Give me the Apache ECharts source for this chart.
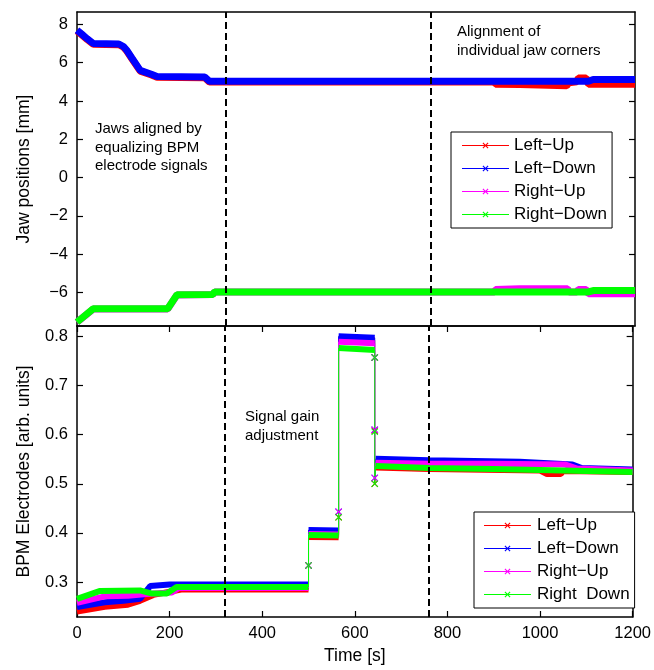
<!DOCTYPE html>
<html><head><meta charset="utf-8">
<script src="https://cdn.jsdelivr.net/npm/echarts@6/dist/echarts.min.js"></script>
<style>html,body{margin:0;padding:0;background:#fff}#c{width:654px;height:670px}</style>
</head><body><div id="c"></div>
<script>
// ---------- data ----------
const timeTicks = [0, 200, 400, 600, 800, 1000, 1200];
const jawTicks = [-6, -4, -2, 0, 2, 4, 6, 8];
const bpmTicks = [0.3, 0.4, 0.5, 0.6, 0.7, 0.8];
const markerTimes = [320, 760];
const jawNames = ['Left−Up', 'Left−Down', 'Right−Up', 'Right−Down'];
const bpmNames = ['Left−Up', 'Left−Down', 'Right−Up', 'Right  Down'];
const seriesColors = ['#ff0000', '#0000ff', '#ff00ff', '#00ff00'];

// Jaw positions [time s, mm]
const jawLeftUp = [[0,7.66],[10,7.46],[22,7.21],[35,6.96],[90,6.94],[100,6.81],[107,6.61],[118,6.21],[136,5.56],[160,5.36],[172,5.24],[275,5.21],[285,4.99],[898,5.0],[900,4.88],[952,4.86],[955,4.8],[1053,4.8],[1058,4.95],[1075,5.0],[1078,5.2],[1095,5.2],[1100,4.87],[1200,4.87]];
const jawLeftDown = [[0,7.7],[10,7.5],[22,7.25],[35,7.0],[90,6.98],[100,6.85],[107,6.65],[118,6.25],[136,5.6],[160,5.4],[172,5.28],[275,5.25],[285,5.03],[1100,5.03],[1110,5.12],[1200,5.12]];
const jawRightUp = [[0,-7.55],[35,-6.86],[195,-6.86],[215,-6.13],[292,-6.11],[296,-5.97],[898,-5.97],[900,-5.85],[952,-5.8],[1055,-5.8],[1058,-5.97],[1075,-5.97],[1078,-5.85],[1095,-5.85],[1100,-6.06],[1200,-6.06]];
const jawRightDown = [[0,-7.55],[35,-6.85],[195,-6.85],[215,-6.12],[292,-6.1],[296,-5.97],[1100,-5.97],[1110,-5.9],[1200,-5.9]];

// BPM electrode signals: plateau segments [time s, arb. units]
const bpmLeftUp = [
  [[0,0.240],[60,0.250],[110,0.254],[136,0.262],[165,0.274],[225,0.285],[500,0.285]],
  [[500,0.392],[565,0.391]],
  [[565,0.795],[643,0.792]],
  [[645,0.533],[760,0.530],[1000,0.527],[1015,0.520],[1045,0.520],[1050,0.526],[1200,0.524]]
];
const bpmLeftDown = [
  [[0,0.249],[60,0.259],[100,0.262],[136,0.266],[158,0.292],[200,0.295],[500,0.295]],
  [[500,0.406],[565,0.405]],
  [[565,0.800],[643,0.797]],
  [[645,0.551],[760,0.548],[956,0.545],[1070,0.539],[1090,0.532],[1200,0.529]]
];
const bpmRightUp = [
  [[0,0.258],[60,0.271],[110,0.272],[150,0.276],[205,0.279],[220,0.288],[500,0.288]],
  [[500,0.398],[565,0.397]],
  [[565,0.789],[643,0.786]],
  [[645,0.543],[760,0.541],[900,0.541],[1055,0.539],[1080,0.531],[1200,0.527]]
];
const bpmRightDown = [
  [[0,0.266],[50,0.282],[136,0.283],[160,0.277],[194,0.277],[215,0.290],[500,0.290]],
  [[500,0.396],[565,0.395]],
  [[565,0.776],[643,0.772]],
  [[645,0.536],[760,0.532],[900,0.530],[1050,0.527],[1200,0.524]]
];
// transient samples during the gain steps
const jumpTimes = [500, 565, 643];
const bpmLeftUpJumps = [[0.334], [0.432], [0.757, 0.608, 0.500]];
const bpmLeftDownJumps = [[0.334], [0.443], [0.757, 0.610, 0.512]];
const bpmRightUpJumps = [[0.334], [0.443], [0.757, 0.610, 0.512]];
const bpmRightDownJumps = [[0.334], [0.432], [0.757, 0.606, 0.500]];

// ---------- chart ----------
const FONT = '"Liberation Sans", Arial, sans-serif';
const xMark = 'path://M0,1 L1,0 L5,4 L9,0 L10,1 L6,5 L10,9 L9,10 L5,6 L1,10 L0,9 L4,5 Z';
const legendIcon = 'path://M0,3 H47 V4 H0 Z M21.3,0.5 L23.5,2.7 L25.7,0.5 L26.5,1.3 L24.3,3.5 L26.5,5.7 L25.7,6.5 L23.5,4.3 L21.3,6.5 L20.5,5.7 L22.7,3.5 L20.5,1.3 Z';

const jawData = [jawLeftUp, jawLeftDown, jawRightUp, jawRightDown];
const bpmData = [bpmLeftUp, bpmLeftDown, bpmRightUp, bpmRightDown];
const bpmJumps = [bpmLeftUpJumps, bpmLeftDownJumps, bpmRightUpJumps, bpmRightDownJumps];

const series = [];
jawData.forEach((d, i) => {
  series.push({
    type: 'line', name: jawNames[i], xAxisIndex: 0, yAxisIndex: 0,
    data: d, symbol: 'none', color: seriesColors[i],
    lineStyle: { width: 7, color: seriesColors[i] }, silent: true
  });
});
bpmData.forEach((segs, i) => {
  segs.forEach(seg => {
    series.push({
      type: 'line', name: bpmNames[i], xAxisIndex: 1, yAxisIndex: 2,
      data: seg, symbol: 'none', color: seriesColors[i],
      lineStyle: { width: 6, color: seriesColors[i] }, silent: true
    });
  });
  jumpTimes.forEach((t, k) => {
    const a = segs[k][segs[k].length - 1];
    const b = segs[k + 1][0];
    const pts = [a].concat(bpmJumps[i][k].map(v => ({ value: [t, v], symbol: xMark, symbolSize: 7 }))).concat([b]);
    series.push({
      type: 'line', name: bpmNames[i], xAxisIndex: 1, yAxisIndex: 2,
      data: pts, symbol: 'none', showSymbol: true, showAllSymbol: true,
      color: seriesColors[i],
      itemStyle: { color: seriesColors[i], borderWidth: 0 },
      lineStyle: { width: 1, color: seriesColors[i] }, silent: true
    });
  });
});
[[0, 0], [1, 2]].forEach(([xi, yi]) => {
  series.push({
    type: 'line', xAxisIndex: xi, yAxisIndex: yi, data: [], z: 10,
    markLine: {
      silent: true, symbol: 'none', label: { show: false }, animation: false,
      lineStyle: { color: '#000', type: [7, 4], width: 2 },
      data: markerTimes.map(t => ({ xAxis: t }))
    }
  });
});

const lineStyleAx = { show: true, onZero: false, lineStyle: { color: '#000', width: 1.5 } };
function ticks(vals) {
  const o = { show: true, inside: true, length: 6, lineStyle: { color: '#000', width: 1.2 } };
  if (vals) o.customValues = vals;
  return o;
}
const labelBase = { color: '#000', fontFamily: FONT, fontSize: 16.5 };
const nameStyle = { color: '#000', fontFamily: FONT, fontSize: 17.5 };

const option = {
  animation: false,
  backgroundColor: '#fff',
  grid: [
    { left: 77, top: 12, width: 558, height: 314, show: false },
    { left: 77, top: 326, width: 556, height: 291, show: false }
  ],
  xAxis: [
    { type: 'value', gridIndex: 0, min: 0, max: 1200, interval: 200, position: 'bottom',
      axisLine: lineStyleAx, axisTick: { show: false }, axisLabel: { show: false }, splitLine: { show: false } },
    { type: 'value', gridIndex: 1, min: 0, max: 1200, interval: 200, position: 'bottom',
      axisLine: lineStyleAx, axisTick: ticks(), splitLine: { show: false },
      axisLabel: Object.assign({ margin: 8, formatter: v => String(v) }, labelBase),
      name: 'Time [s]', nameLocation: 'middle', nameGap: 30, nameTextStyle: nameStyle },
    { type: 'value', gridIndex: 1, min: 0, max: 1200, interval: 200, position: 'top',
      axisLine: lineStyleAx, axisTick: ticks(), axisLabel: { show: false }, splitLine: { show: false } },
    { type: 'value', gridIndex: 0, min: 0, max: 1200, interval: 200, position: 'top',
      axisLine: lineStyleAx, axisTick: { show: false }, axisLabel: { show: false }, splitLine: { show: false } }
  ],
  yAxis: [
    { type: 'value', gridIndex: 0, min: -7.75, max: 8.65, position: 'left',
      axisLine: lineStyleAx, splitLine: { show: false },
      axisTick: ticks(jawTicks),
      axisLabel: Object.assign({ margin: 9, customValues: jawTicks, formatter: v => String(v).replace('-', '−') }, labelBase),
      name: 'Jaw positions [mm]', nameLocation: 'middle', nameGap: 44, nameTextStyle: nameStyle },
    { type: 'value', gridIndex: 0, min: -7.75, max: 8.65, position: 'right',
      axisLine: lineStyleAx, splitLine: { show: false },
      axisTick: ticks(jawTicks), axisLabel: { show: false } },
    { type: 'value', gridIndex: 1, min: 0.229, max: 0.821, position: 'left',
      axisLine: lineStyleAx, splitLine: { show: false },
      axisTick: ticks(bpmTicks),
      axisLabel: Object.assign({ margin: 9, customValues: bpmTicks, formatter: v => v.toFixed(1) }, labelBase),
      name: 'BPM Electrodes [arb. units]', nameLocation: 'middle', nameGap: 44, nameTextStyle: nameStyle },
    { type: 'value', gridIndex: 1, min: 0.229, max: 0.821, position: 'right',
      axisLine: lineStyleAx, splitLine: { show: false },
      axisTick: ticks(bpmTicks), axisLabel: { show: false } }
  ],
  legend: [
    { orient: 'vertical', left: 451, top: 132, selectedMode: false,
      data: jawNames.map(n => ({ name: n, icon: legendIcon })),
      itemWidth: 47, itemHeight: 6, itemGap: 6,
      itemStyle: { borderWidth: 0 },
      padding: [5, 5, 5, 11], borderColor: '#000', borderWidth: 1, backgroundColor: '#fff',
      textStyle: { color: '#000', fontFamily: FONT, fontSize: 17 } },
    { orient: 'vertical', left: 474, top: 512, selectedMode: false,
      data: bpmNames.map(n => ({ name: n, icon: legendIcon })),
      itemWidth: 49, itemHeight: 6, itemGap: 6,
      itemStyle: { borderWidth: 0 },
      padding: [5, 5, 5, 10], borderColor: '#000', borderWidth: 1, backgroundColor: '#fff',
      textStyle: { color: '#000', fontFamily: FONT, fontSize: 17 } }
  ],
  graphic: [
    { type: 'text', left: 95, top: 120, z: 20,
      style: { text: 'Jaws aligned by\nequalizing BPM\nelectrode signals', fontFamily: FONT, fontSize: 15, lineHeight: 18.5, fill: '#000' } },
    { type: 'text', left: 457, top: 23, z: 20,
      style: { text: 'Alignment of\nindividual jaw corners', fontFamily: FONT, fontSize: 15, lineHeight: 18.5, fill: '#000' } },
    { type: 'text', left: 245, top: 408, z: 20,
      style: { text: 'Signal gain\nadjustment', fontFamily: FONT, fontSize: 15, lineHeight: 18.5, fill: '#000' } }
  ],
  series: series
};
const chart = echarts.init(document.getElementById('c'), null, { renderer: 'canvas' });
chart.setOption(option);
</script></body></html>
